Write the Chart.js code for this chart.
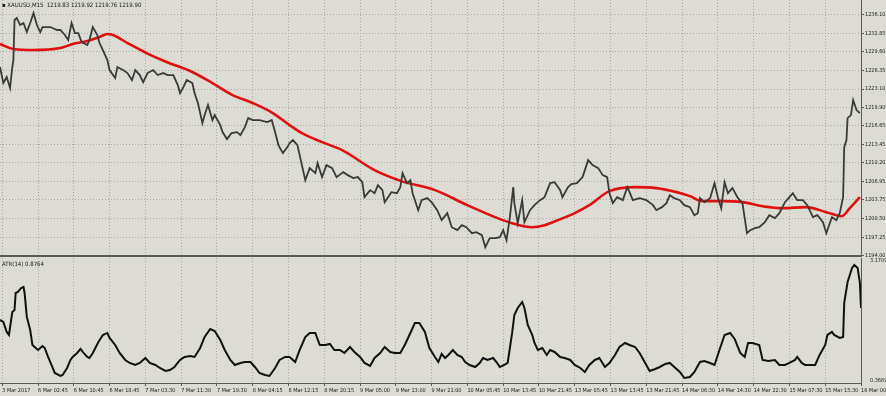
<!DOCTYPE html>
<html>
<head>
<meta charset="utf-8">
<script src="https://cdn.jsdelivr.net/npm/chart.js@4.4.1/dist/chart.umd.min.js"></script>
<style>
  body { margin: 0; background: #dcdcd4; width: 886px; height: 396px; overflow: hidden; position: relative; font-family: "Liberation Sans Narrow", "DejaVu Sans Condensed", sans-serif; }
  canvas { position: absolute; left: 0; }
  #priceChart { top: 0; }
  #atrChart { top: 257px; }
  .title { position: absolute; left: 2px; font-size: 6px; color: #1a1a1a; white-space: pre; }
</style>
</head>
<body>
<canvas id="priceChart" width="886" height="262"></canvas>
<canvas id="atrChart" width="886" height="139"></canvas>
<div class="title" style="top:1px">▪ XAUUSD,M15  1219.83 1219.92 1219.76 1219.90</div>
<div class="title" style="top:260px">ATR(14) 0.8764</div>
<script>
// --- DATA (x = bar number, M15 bars) ---
const timeLabels = ["3 Mar 2017", "6 Mar 02:45", "6 Mar 10:45", "6 Mar 18:45", "7 Mar 03:30", "7 Mar 11:30",
    "7 Mar 19:30", "8 Mar 04:15", "8 Mar 12:15", "8 Mar 20:15", "9 Mar 05:00", "9 Mar 13:00", "9 Mar 21:00",
    "10 Mar 05:45", "10 Mar 13:45", "10 Mar 21:45", "13 Mar 05:45", "13 Mar 13:45", "13 Mar 21:45",
    "14 Mar 06:30", "14 Mar 14:30", "14 Mar 22:30", "15 Mar 07:30", "15 Mar 15:30", "16 Mar 00:30"];
const timeBars = [2, 34, 66, 98, 130, 162, 194, 226, 258, 290, 322, 354, 386, 418, 450, 482, 514,
    546, 578, 610, 642, 674, 706, 738, 770];

const priceTicks = [1236.10, 1232.85, 1229.60, 1226.35, 1223.10, 1219.90, 1216.65, 1213.45,
    1210.20, 1206.95, 1203.75, 1200.50, 1197.25, 1194.00];
const atrTicks = [3.1709, 0.3669];

const priceBars = [0, 3, 6, 9, 11, 12, 13, 15, 18, 21, 24, 27, 30, 33, 36, 38, 45, 51, 54, 58, 61, 64, 67, 70,
    73, 78, 80, 83, 87, 89, 92, 96, 98, 103, 105, 110, 114, 118, 121, 125, 128, 132, 137, 141, 146, 150, 155,
    159, 161, 164, 167, 172, 174, 177, 181, 183, 186, 190, 192, 197, 199, 203, 207, 212, 215, 219, 222, 226,
    232, 239, 243, 246, 249, 253, 257, 259, 262, 266, 270, 273, 277, 282, 284, 288, 292, 297, 301, 307, 311,
    316, 320, 324, 326, 331, 335, 338, 342, 344, 347, 350, 355, 358, 360, 364, 367, 369, 374, 377, 382, 386,
    391, 395, 400, 404, 409, 413, 417, 422, 426, 431, 434, 438, 443, 447, 450, 453, 456, 459, 460, 463, 467,
    469, 474, 478, 483, 487, 492, 496, 501, 503, 508, 511, 516, 521, 526, 530, 535, 539, 543, 545, 548, 552,
    557, 561, 563, 566, 572, 578, 584, 587, 592, 596, 599, 603, 608, 612, 617, 621, 624, 626, 630, 635, 639,
    642, 645, 648, 651, 655, 660, 664, 668, 671, 675, 679, 684, 688, 693, 697, 702, 706, 709, 713, 718, 722,
    727, 731, 736, 739, 744, 748, 751, 754, 755, 757, 758, 761, 763, 766, 769];
const priceClose = [1226.94, 1224.14, 1225.19, 1223.27, 1226.94, 1228.16, 1235.15, 1235.50, 1234.27, 1234.62,
    1233.05, 1234.62, 1236.37, 1234.27, 1233.05, 1233.92, 1233.92, 1233.40, 1233.40, 1232.53, 1231.65, 1234.62,
    1232.87, 1232.87, 1231.30, 1230.78, 1231.65, 1233.92, 1232.53, 1231.13, 1229.90, 1228.16, 1226.41, 1225.01,
    1226.94, 1226.41, 1225.89, 1224.66, 1226.41, 1225.54, 1224.31, 1225.89, 1226.41, 1225.54, 1225.89, 1225.54,
    1225.54, 1223.79, 1222.39, 1223.44, 1224.66, 1224.14, 1222.39, 1220.65, 1217.15, 1218.55, 1220.30, 1217.68,
    1218.55, 1216.80, 1215.58, 1214.36, 1215.40, 1215.58, 1215.06, 1216.45, 1218.03, 1217.68, 1217.68, 1217.33,
    1217.68, 1215.58, 1213.31, 1211.91, 1212.96, 1213.66, 1214.18, 1213.31, 1209.81, 1207.19, 1209.29, 1208.42,
    1210.16, 1207.72, 1209.81, 1209.29, 1207.72, 1208.59, 1208.07, 1207.54, 1207.72, 1206.84, 1204.22, 1205.45,
    1204.92, 1206.32, 1205.45, 1203.35, 1204.22, 1205.10, 1204.92, 1205.97, 1208.42, 1206.67, 1207.19, 1204.92,
    1201.95, 1203.70, 1204.05, 1203.35, 1201.95, 1200.21, 1201.43, 1198.98, 1198.46, 1199.33, 1198.98, 1197.93,
    1198.11, 1197.59, 1195.49, 1197.06, 1197.06, 1197.24, 1198.46, 1196.71, 1200.73, 1205.97, 1203.18, 1199.68,
    1203.70, 1199.86, 1201.95, 1202.83, 1203.70, 1204.22, 1206.67, 1206.84, 1205.45, 1204.22, 1205.97, 1206.50,
    1206.67, 1207.72, 1210.69, 1209.81, 1209.29, 1208.07, 1207.72, 1204.92, 1203.18, 1204.22, 1203.70, 1205.97,
    1205.10, 1203.70, 1204.05, 1203.70, 1202.83, 1201.95, 1202.48, 1203.18, 1204.57, 1204.05, 1203.70, 1202.83,
    1202.48, 1201.08, 1201.43, 1204.05, 1203.35, 1204.05, 1206.67, 1204.22, 1202.30, 1206.84, 1204.92, 1205.80,
    1204.05, 1203.18, 1197.93, 1198.46, 1198.81, 1198.98, 1199.86, 1201.08, 1200.56, 1201.43, 1203.35, 1204.22,
    1204.92, 1203.70, 1203.70, 1202.83, 1200.73, 1201.08, 1199.86, 1197.93, 1200.73, 1200.21, 1201.43, 1204.22,
    1212.96, 1214.18, 1218.03, 1218.55, 1221.17, 1219.42, 1218.90];

const maBars = [0, 12, 30, 54, 65, 78, 89, 96, 101, 114, 131, 149, 170, 190, 208, 226, 244, 259, 270, 288, 306,
    335, 359, 389, 418, 445, 458, 476, 487, 499, 514, 527, 545, 569, 587, 605, 617, 628, 646, 664, 682, 700,
    721, 739, 753, 760, 769];
const maValues = [1230.95, 1230.08, 1229.90, 1230.25, 1230.95, 1231.48, 1232.18, 1232.70, 1232.53, 1231.13,
    1229.38, 1227.81, 1226.24, 1224.14, 1222.04, 1220.65, 1218.90, 1216.80, 1215.40, 1213.83, 1212.43, 1208.94,
    1207.02, 1205.45, 1202.83, 1200.56, 1199.68, 1198.98, 1199.33, 1200.21, 1201.43, 1202.83, 1205.27, 1205.97,
    1205.80, 1205.10, 1204.40, 1203.53, 1203.53, 1203.35, 1202.65, 1202.30, 1202.48, 1201.60, 1200.90, 1202.30,
    1204.22];

const atrBars = [0, 3, 6, 8, 11, 13, 14, 16, 19, 21, 22, 24, 27, 29, 31, 34, 38, 40, 43, 46, 49, 54, 56, 60, 63,
    65, 69, 72, 74, 78, 80, 83, 88, 92, 96, 98, 103, 107, 112, 116, 121, 125, 130, 134, 139, 143, 148, 152, 156,
    161, 165, 170, 174, 179, 183, 188, 192, 197, 201, 206, 210, 215, 219, 224, 228, 232, 237, 241, 246, 250,
    255, 259, 264, 268, 273, 277, 282, 286, 291, 295, 299, 304, 308, 313, 317, 322, 326, 331, 335, 340, 344,
    349, 353, 358, 362, 367, 371, 375, 380, 384, 389, 392, 395, 398, 401, 405, 409, 413, 416, 420, 425, 429,
    432, 436, 441, 444, 447, 451, 454, 458, 460, 463, 467, 469, 472, 476, 478, 481, 485, 489, 492, 496, 501,
    505, 510, 514, 519, 523, 527, 532, 536, 541, 545, 550, 554, 559, 563, 568, 572, 577, 581, 586, 590, 595,
    599, 603, 608, 612, 617, 621, 626, 630, 635, 639, 644, 648, 653, 657, 662, 666, 669, 673, 679, 682, 687,
    693, 697, 702, 706, 711, 713, 717, 720, 724, 729, 733, 738, 740, 744, 746, 751, 754, 755, 758, 762, 764,
    767, 769, 770];
const atrValues = [1.792, 1.746, 1.512, 1.442, 1.979, 2.026, 2.423, 2.447, 2.540, 2.564, 2.423, 1.862, 1.559,
    1.208, 1.161, 1.091, 1.185, 1.138, 0.928, 0.741, 0.554, 0.484, 0.507, 0.671, 0.858, 0.928, 1.021, 1.115,
    1.045, 0.928, 0.904, 1.021, 1.278, 1.442, 1.489, 1.372, 1.208, 1.021, 0.858, 0.788, 0.741, 0.788, 0.904,
    0.788, 0.741, 0.671, 0.601, 0.624, 0.694, 0.858, 0.928, 0.951, 0.928, 1.138, 1.395, 1.582, 1.535, 1.325,
    1.091, 0.858, 0.741, 0.788, 0.811, 0.811, 0.694, 0.554, 0.507, 0.484, 0.671, 0.858, 0.928, 0.928, 0.811,
    1.091, 1.395, 1.489, 1.489, 1.208, 1.208, 1.232, 1.091, 1.091, 1.021, 1.161, 1.045, 0.928, 0.788, 0.718,
    0.904, 1.021, 1.161, 1.045, 1.021, 1.021, 1.208, 1.489, 1.722, 1.722, 1.512, 1.138, 0.928, 0.811, 0.998,
    0.904, 0.975, 1.091, 0.975, 0.928, 0.811, 0.741, 0.694, 0.788, 0.904, 0.858, 0.904, 0.811, 0.694, 0.741,
    0.788, 1.489, 1.909, 2.073, 2.213, 2.073, 1.675, 1.442, 1.255, 1.091, 1.138, 0.975, 1.091, 1.045, 0.928,
    0.904, 0.858, 0.741, 0.671, 0.577, 0.741, 0.858, 0.904, 0.694, 0.788, 0.975, 1.161, 1.255, 1.208, 1.161,
    1.021, 0.788, 0.601, 0.647, 0.694, 0.764, 0.788, 0.694, 0.577, 0.437, 0.460, 0.577, 0.811, 0.834, 0.788,
    0.741, 1.138, 1.442, 1.489, 1.348, 1.021, 0.928, 1.255, 1.255, 1.208, 0.858, 0.834, 0.858, 0.741, 0.741,
    0.788, 0.858, 0.928, 0.788, 0.741, 0.741, 0.741, 0.975, 1.208, 1.442, 1.512, 1.442, 1.372, 1.395, 2.190,
    2.680, 3.008, 3.078, 3.008, 2.657, 2.073];

// --- HELPERS ---
const pairs = (xs, ys) => xs.map((x, i) => ({ x: x, y: ys[i] }));
const FONT = { family: "'Liberation Sans Narrow', 'DejaVu Sans Condensed', sans-serif", size: 5.5 };
const GRID = '#a9a9a1';
const EDGE = '#5a5a5a';

const timeAxis = (showLabels) => ({
    type: 'linear',
    min: 0,
    max: 770,
    afterBuildTicks: s => { s.ticks = timeBars.map(v => ({ value: v })); },
    afterFit: s => { s.height = showLabels ? 13 : 6; s.paddingLeft = 0; s.paddingRight = 0; },
    grid: { display: true, color: GRID, drawTicks: showLabels, tickLength: 3, tickColor: EDGE },
    border: { display: true, color: EDGE, width: showLabels ? 1 : 2, dash: [1, 2] },
    ticks: {
        display: showLabels,
        autoSkip: false,
        maxRotation: 0,
        minRotation: 0,
        align: 'start',
        padding: 1,
        color: '#1a1a1a',
        font: FONT,
        callback: (v) => { const i = timeBars.indexOf(v); return i >= 0 ? timeLabels[i] : ''; }
    }
});

const valueAxisFit = s => { s.width = 25; s.paddingTop = 0; s.paddingBottom = 0; };

// --- 1. PRICE PANEL ---
new Chart(document.getElementById('priceChart').getContext('2d'), {
    type: 'line',
    data: {
        datasets: [
            {
                data: pairs(priceBars, priceClose),
                borderColor: '#3a3a3a',
                borderWidth: 1.8,
                pointRadius: 0,
                tension: 0
            },
            {
                data: pairs(maBars, maValues),
                borderColor: '#e01010',
                borderWidth: 2.6,
                pointRadius: 0,
                tension: 0.4,
                cubicInterpolationMode: 'monotone'
            }
        ]
    },
    options: {
        responsive: false,
        animation: false,
        layout: { padding: 0 },
        plugins: { legend: { display: false }, tooltip: { enabled: false } },
        scales: {
            x: timeAxis(false),
            y: {
                position: 'right',
                min: 1193.95,
                max: 1238.64,
                afterBuildTicks: s => { s.ticks = priceTicks.map(v => ({ value: v })); },
                afterFit: valueAxisFit,
                grid: { color: GRID, tickLength: 3, tickColor: EDGE },
                border: { display: true, color: EDGE, width: 1, dash: [1, 2] },
                ticks: { padding: 1, color: '#1a1a1a', font: FONT, callback: v => v.toFixed(2) }
            }
        }
    }
});

// --- 2. ATR PANEL ---
new Chart(document.getElementById('atrChart').getContext('2d'), {
    type: 'line',
    data: {
        datasets: [{
            data: pairs(atrBars, atrValues),
            borderColor: '#111111',
            borderWidth: 2,
            pointRadius: 0,
            tension: 0
        }]
    },
    options: {
        responsive: false,
        animation: false,
        layout: { padding: { top: 1 } },
        plugins: { legend: { display: false }, tooltip: { enabled: false } },
        scales: {
            x: timeAxis(true),
            y: {
                position: 'right',
                min: 0.32,
                max: 3.24,
                afterBuildTicks: s => { s.ticks = atrTicks.map(v => ({ value: v })); },
                afterFit: valueAxisFit,
                grid: { display: false },
                border: { display: true, color: EDGE, width: 1 },
                ticks: { padding: 1, color: '#1a1a1a', font: FONT, callback: v => v.toFixed(4) }
            }
        }
    }
});
</script>
</body>
</html>
